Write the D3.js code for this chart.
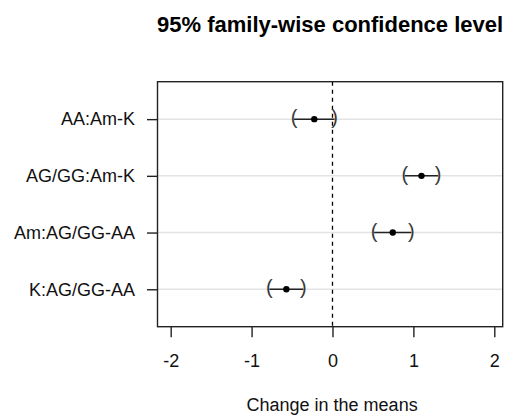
<!DOCTYPE html>
<html>
<head>
<meta charset="utf-8">
<script src="https://cdn.jsdelivr.net/npm/d3@7"></script>
<style>
  html, body { margin: 0; padding: 0; background: #fff; }
  svg { display: block; font-family: "Liberation Sans", Arial, Helvetica, sans-serif; }
</style>
</head>
<body>
<svg id="chart" width="511" height="415"></svg>
<script>
// Tukey HSD pairwise comparisons: difference in means with 95% family-wise limits
const comparisons = ["AA:Am-K", "AG/GG:Am-K", "Am:AG/GG-AA", "K:AG/GG-AA"];
const diffs = [-0.225, 1.10, 0.745, -0.570];
const lowers = [-0.475, 0.895, 0.515, -0.780];
const uppers = [0.025, 1.305, 0.975, -0.360];
const xTicks = [-2, -1, 0, 1, 2];

const title = "95% family-wise confidence level";
const xLabel = "Change in the means";

const svg = d3.select("#chart");
const box = { left: 157.5, right: 502.7, top: 81.7, bottom: 326.7 };
const fontSize = 18;

const x = d3.scaleLinear().domain([-2.163, 2.104]).range([box.left, box.right]);
// rows are numbered n..1 from the top, with a 4% pad either side of [0.5, n + 0.5]
const n = comparisons.length;
const pad = 0.04 * n;
const y = d3.scaleLinear().domain([0.5 - pad, n + 0.5 + pad]).range([box.bottom, box.top]);
const rowY = i => y(n - i);

// light horizontal guides at each comparison
svg.append("g").selectAll("line").data(comparisons).join("line")
  .attr("x1", box.left).attr("x2", box.right)
  .attr("y1", (d, i) => rowY(i)).attr("y2", (d, i) => rowY(i))
  .attr("stroke", "#e3e3e3").attr("stroke-width", 1.5);

// zero reference line
svg.append("line")
  .attr("x1", x(0)).attr("x2", x(0))
  .attr("y1", box.top).attr("y2", box.bottom)
  .attr("stroke", "#000").attr("stroke-width", 1.3)
  .attr("stroke-dasharray", "4,4");

// interval segments
const marks = svg.append("g");
marks.selectAll("line.ci").data(comparisons).join("line")
  .attr("class", "ci")
  .attr("x1", (d, i) => x(lowers[i])).attr("x2", (d, i) => x(uppers[i]))
  .attr("y1", (d, i) => rowY(i)).attr("y2", (d, i) => rowY(i))
  .attr("stroke", "#222").attr("stroke-width", 1.5);

// bracket ends
const parenSize = 20;
marks.selectAll("text.lwr").data(comparisons).join("text")
  .attr("class", "lwr")
  .attr("x", (d, i) => x(lowers[i]))
  .attr("y", (d, i) => rowY(i) + 0.26 * parenSize)
  .attr("text-anchor", "middle")
  .attr("font-size", parenSize).attr("fill", "#3a3a3a")
  .text("(");
marks.selectAll("text.upr").data(comparisons).join("text")
  .attr("class", "upr")
  .attr("x", (d, i) => x(uppers[i]))
  .attr("y", (d, i) => rowY(i) + 0.26 * parenSize)
  .attr("text-anchor", "middle")
  .attr("font-size", parenSize).attr("fill", "#3a3a3a")
  .text(")");

// point estimates
marks.selectAll("circle").data(comparisons).join("circle")
  .attr("cx", (d, i) => x(diffs[i])).attr("cy", (d, i) => rowY(i))
  .attr("r", 3.2).attr("fill", "#000");

// axes
const xAxis = svg.append("g")
  .attr("transform", `translate(0,${box.bottom})`)
  .call(d3.axisBottom(x).tickValues(xTicks).tickFormat(d3.format("d")).tickSize(10.5).tickPadding(17));
const yAxis = svg.append("g")
  .attr("transform", `translate(${box.left},0)`)
  .call(d3.axisLeft(d3.scaleOrdinal().domain(comparisons).range(comparisons.map((d, i) => rowY(i))))
    .tickSize(10.5).tickPadding(12));
[xAxis, yAxis].forEach(g => {
  g.select(".domain").remove();
  g.selectAll(".tick line").attr("stroke", "#222").attr("stroke-width", 1.4);
  g.selectAll(".tick text").attr("font-size", fontSize).attr("fill", "#111")
    .attr("font-family", "Liberation Sans, Arial, sans-serif");
});
xAxis.selectAll(".tick text").text(d => d < 0 ? "-" + Math.abs(d) : d);

// plot frame
svg.append("rect")
  .attr("x", box.left).attr("y", box.top)
  .attr("width", box.right - box.left).attr("height", box.bottom - box.top)
  .attr("fill", "none").attr("stroke", "#222").attr("stroke-width", 1.4);

// titles
svg.append("text")
  .attr("x", (box.left + box.right) / 2).attr("y", 31.5)
  .attr("text-anchor", "middle").attr("font-size", 22).attr("font-weight", "bold")
  .attr("fill", "#000").text(title);
svg.append("text")
  .attr("x", (box.left + box.right) / 2 + 2).attr("y", 411)
  .attr("text-anchor", "middle").attr("font-size", fontSize)
  .attr("fill", "#111").text(xLabel);
</script>
</body>
</html>
